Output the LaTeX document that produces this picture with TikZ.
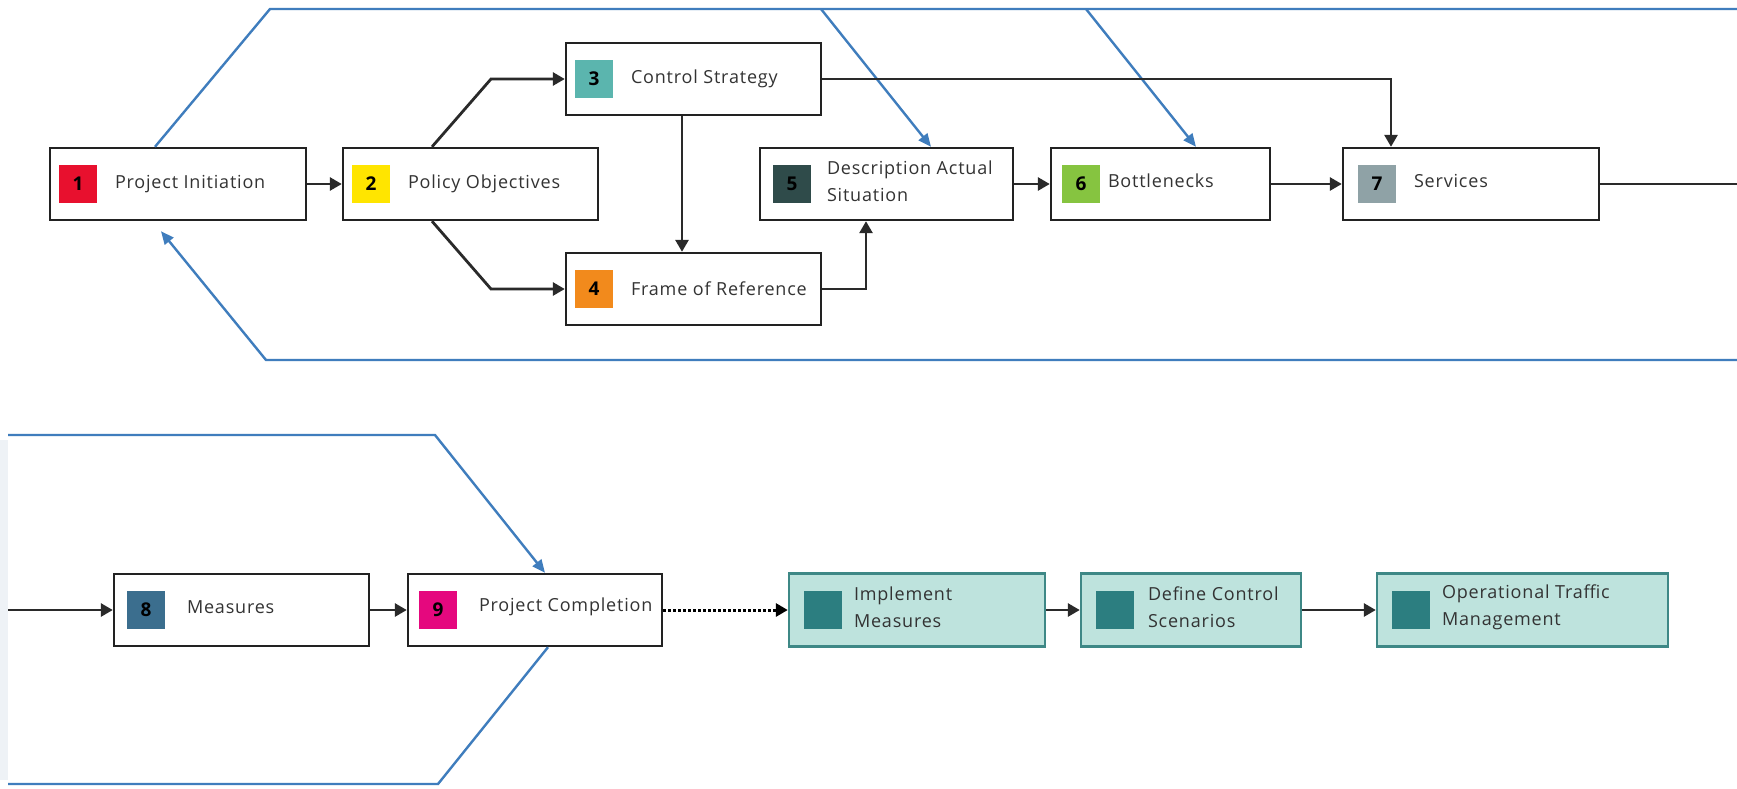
\documentclass[tikz,border=0pt]{standalone}
\usepackage{fontspec}
\setmainfont{Open Sans}[LetterSpace=4.5]
\usetikzlibrary{arrows.meta,calc}
\definecolor{boxline}{HTML}{222222}
\definecolor{connc}{HTML}{2A2A2A}
\definecolor{bluel}{HTML}{3F7DBD}
\definecolor{txt}{HTML}{333333}
\definecolor{cA}{HTML}{E8102E}
\definecolor{cB}{HTML}{FFE500}
\definecolor{cC}{HTML}{5BB5AE}
\definecolor{cD}{HTML}{F28A1C}
\definecolor{cE}{HTML}{2F4B4A}
\definecolor{cF}{HTML}{86C440}
\definecolor{cG}{HTML}{8FA2A6}
\definecolor{cH}{HTML}{3B6E8E}
\definecolor{cI}{HTML}{E5087E}
\definecolor{tealfill}{HTML}{BEE3DD}
\definecolor{tealline}{HTML}{3E8886}
\definecolor{tealsq}{HTML}{2C7E80}
\definecolor{edgegrey}{HTML}{EEF2F6}
\begin{document}
\begin{tikzpicture}[x=1pt,y=-1pt,
  box/.style={draw=boxline, line width=2.4pt, fill=white, minimum height=72pt, inner sep=0pt},
  tbox/.style={draw=tealline, line width=2.4pt, fill=tealfill, minimum height=73pt, inner sep=0pt},
  sq/.style={minimum width=38pt, minimum height=38pt, inner sep=0pt, anchor=west, font=\fontsize{19}{19}\selectfont\bfseries, text=black},
  lbl/.style={anchor=west, inner sep=0pt, align=left, text=txt, font=\fontsize{18}{27}\selectfont},
  conn/.style={draw=connc, line width=2.8pt, -{Triangle[length=12pt,width=13pt]}},
  plainline/.style={draw=connc, line width=2.8pt},
  dotconn/.style={draw=black, line width=3pt, dotted, -{Triangle[length=12pt,width=13pt]}},
  blueline/.style={draw=bluel, line width=2.4pt},
  bluearr/.style={draw=bluel, line width=2.4pt, -{Triangle[length=13pt,width=11pt]}}
]
\useasboundingbox (0,0) rectangle (1737,788);
\fill[white] (0,0) rectangle (1737,788);
\fill[edgegrey] (0,440) rectangle (8,780);

% ---- fixed points of the frames
\coordinate (tl1) at (270,9);
\coordinate (tr1) at (1737,9);
\coordinate (bl1) at (266,360);
\coordinate (br1) at (1737,360);
\coordinate (ta5) at (821,9);
\coordinate (ta6) at (1086,9);
\coordinate (tl2) at (8,435);
\coordinate (tk2) at (435,435);
\coordinate (bk2) at (438,784);
\coordinate (bl2) at (8,784);

% ---- top row boxes
\node[box, minimum width=256pt] (b1) at (178,184) {};
\node[box, minimum width=255pt] (b2) at (470.5,184) {};
\node[box, minimum width=255pt] (b3) at (693.5,79) {};
\node[box, minimum width=255pt] (b4) at (693.5,289) {};
\node[box, minimum width=253pt] (b5) at (886.5,184) {};
\node[box, minimum width=219pt] (b6) at (1160.5,184) {};
\node[box, minimum width=256pt] (b7) at (1471,184) {};

\node[sq, fill=cA] (s1) at ([xshift=10pt]b1.west) {1};
\node[sq, fill=cB] (s2) at ([xshift=10pt]b2.west) {2};
\node[sq, fill=cC] (s3) at ([xshift=10pt]b3.west) {3};
\node[sq, fill=cD] (s4) at ([xshift=10pt]b4.west) {4};
\node[sq, fill=cE] (s5) at ([xshift=14pt]b5.west) {5};
\node[sq, fill=cF] (s6) at ([xshift=12pt]b6.west) {6};
\node[sq, fill=cG] (s7) at ([xshift=16pt]b7.west) {7};

\node[lbl] (t1) at ([xshift=66pt]b1.west) {Project Initiation};
\node[lbl] (t2) at ([xshift=66pt]b2.west) {Policy Objectives};
\node[lbl] (t3) at ([xshift=66pt]b3.west) {Control Strategy};
\node[lbl] (t4) at ([xshift=66pt]b4.west) {Frame of Reference};
\node[lbl] (t5) at ([xshift=68pt,yshift=3pt]b5.west) {Description Actual\\Situation};
\node[lbl] (t6) at ([xshift=58pt,yshift=3pt]b6.west) {Bottlenecks};
\node[lbl] (t7) at ([xshift=72pt,yshift=3pt]b7.west) {Services};

% ---- bottom row boxes
\node[box, minimum width=255pt] (b8) at (241.5,610) {};
\node[box, minimum width=254pt] (b9) at (535,610) {};
\node[tbox, minimum width=256pt] (m1) at (917,610) {};
\node[tbox, minimum width=220pt] (m2) at (1191,610) {};
\node[tbox, minimum width=291pt] (m3) at (1522.5,610) {};

\node[sq, fill=cH] (s8) at ([xshift=14pt]b8.west) {8};
\node[sq, fill=cI] (s9) at ([xshift=12pt]b9.west) {9};
\node[sq, fill=tealsq] (q1) at ([xshift=16pt]m1.west) {};
\node[sq, fill=tealsq] (q2) at ([xshift=16pt]m2.west) {};
\node[sq, fill=tealsq] (q3) at ([xshift=16pt]m3.west) {};

\node[lbl] (t8) at ([xshift=74pt,yshift=3pt]b8.west) {Measures};
\node[lbl] (t9) at ([xshift=72pt,yshift=3pt]b9.west) {Project Completion};
\node[lbl] (u1) at ([xshift=66pt,yshift=3pt]m1.west) {Implement\\Measures};
\node[lbl] (u2) at ([xshift=68pt,yshift=3pt]m2.west) {Define Control\\Scenarios};
\node[lbl] (u3) at ([xshift=66pt,yshift=3pt]m3.west) {Operational Traffic\\Management};

% ---- blue lines
\draw[blueline] ([xshift=-23pt]b1.north) -- (tl1) -- (tr1);
\draw[bluearr] (br1) -- (bl1) -- ([xshift=-17pt,yshift=-10pt]b1.south);
\draw[bluearr] (ta5) -- ([xshift=44.5pt]b5.north);
\draw[bluearr] (ta6) -- ([xshift=35.5pt]b6.north);
\draw[bluearr] (tl2) -- (tk2) -- ([xshift=10pt]b9.north);
\draw[blueline] ([xshift=13pt]b9.south) -- (bk2) -- (bl2);

% ---- black connectors
\coordinate (k23) at (491,79);
\coordinate (k24) at (491,289);
\coordinate (rightend) at (1737,184);
\coordinate (leftstart) at (8,610);
\draw[conn] (b1.east) -- (b2.west);
\draw[conn] ([xshift=-38.5pt]b2.north) -- (k23) -- (b3.west);
\draw[conn] ([xshift=-38.5pt]b2.south) -- (k24) -- (b4.west);
\draw[conn] ([xshift=-11.5pt]b3.south) -- ([xshift=-11.5pt]b4.north);
\draw[conn] (b4.east) -| ([xshift=-20.5pt]b5.south);
\draw[conn] (b3.east) -| ([xshift=-80pt]b7.north);
\draw[conn] (b5.east) -- (b6.west);
\draw[conn] (b6.east) -- (b7.west);
\draw[plainline] (b7.east) -- (rightend);
\draw[conn] (leftstart) -- (b8.west);
\draw[conn] (b8.east) -- (b9.west);
\draw[dotconn] (b9.east) -- (m1.west);
\draw[conn] (m1.east) -- (m2.west);
\draw[conn] (m2.east) -- (m3.west);
\end{tikzpicture}
\end{document}
